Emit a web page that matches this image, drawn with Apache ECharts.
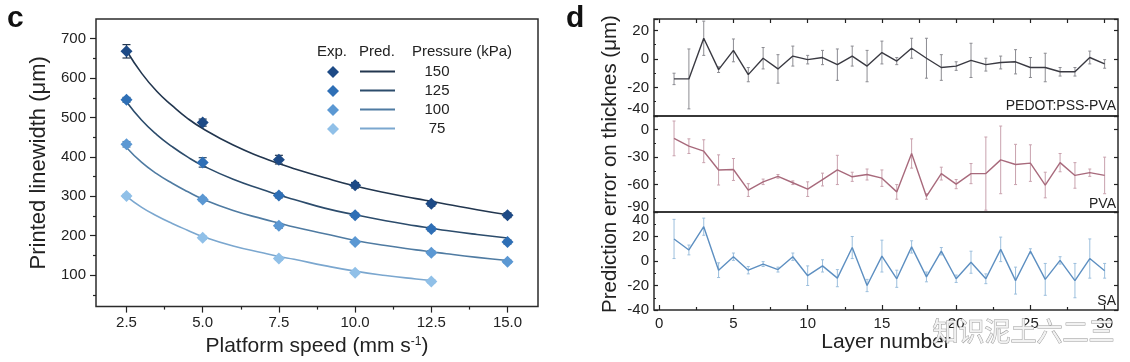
<!DOCTYPE html>
<html><head><meta charset="utf-8">
<script src="https://cdn.jsdelivr.net/npm/echarts@6/dist/echarts.min.js"></script>
<style>html,body{margin:0;padding:0;background:#fff}#c{width:1130px;height:362px}</style>
</head><body><div id="c"></div>
<script>
// ---------- panel c data ----------
const speeds = [2.5, 5.0, 7.5, 10.0, 12.5, 15.0];
const speeds75 = [2.5, 5.0, 7.5, 10.0, 12.5];
const pressureLabels = ['150', '125', '100', '75'];
const exp150 = [668, 487, 393, 328, 281, 252];
const exp125 = [545, 386, 302, 252, 217, 184];
const exp100 = [432, 292, 225, 184, 157, 134];
const exp75 = [301, 195, 142, 106, 84];
const err150 = [17, 9, 11, 7, 6, 6];
const err125 = [6, 12, 6, 5, 5, 5];
const err100 = [7, 5, 6, 4, 5, 4];
const err75 = [4, 4, 4, 4, 4];
const predSpeed = [2.5, 3, 3.5, 4, 4.5, 5, 6, 7, 7.5, 8, 9, 10, 11, 12, 12.5, 13, 14, 15];
const predSpeed75 = [2.5, 3, 3.5, 4, 4.5, 5, 6, 7, 7.5, 8, 9, 10, 11, 12, 12.5];
const pred150 = [670, 612, 566, 530, 498, 472, 430, 397, 383, 370, 347, 326, 309, 294, 287, 280, 266, 253];
const pred125 = [540, 493, 456, 426, 400, 378, 343, 316, 303, 292, 270, 253, 238, 225, 219, 213, 203, 194];
const pred100 = [424, 386, 357, 333, 312, 293, 264, 242, 232, 222, 205, 188, 175, 164, 159, 154, 145, 137];
const pred75 = [300, 272, 250, 231, 214, 198, 174, 156, 147, 140, 124, 110, 99, 90, 86];
const yTicksLeft = [100, 200, 300, 400, 500, 600, 700];
const yMinorLeft = [50, 150, 250, 350, 450, 550, 650];
const xTicksLeft = [2.5, 5.0, 7.5, 10.0, 12.5, 15.0];
const xMinorLeft = [3.75, 6.25, 8.75, 11.25, 13.75];

// ---------- panel d data ----------
const layers = [1,2,3,4,5,6,7,8,9,10,11,12,13,14,15,16,17,18,19,20,21,22,23,24,25,26,27,28,29,30];
const pedot = [-14, -14, 14.5, -7.5, 6, -11, 0.5, -7, 2, -0.5, 1, -4, 2, -5, 4.5, -1.5, 7.5, 0.5, -6, -5, -1, -4, -2.5, -2, -6, -6, -9, -9, 1, -3.5];
const pedotErr = [4, 21, 12, 2, 8, 5, 7.5, 10, 7, 3, 5, 11, 7, 11, 8, 2.5, 7, 14, 9, 3, 12, 4.5, 4.5, 8.5, 7, 10, 3, 3, 4.5, 3];
const pva = [-9.5, -18, -23.5, -44, -43.5, -66, -57, -51, -58, -65, -54.5, -44, -51.5, -49, -53, -68, -26, -73, -48, -59.5, -48, -48, -33, -38, -36.5, -60.5, -36, -50, -47, -50];
const pvaErr = [19, 8, 12.5, 16.5, 12, 7, 3, 2, 2, 8, 7, 16, 5, 6, 9, 8, 16, 3, 7, 5, 11, 40, 37, 22, 20, 14, 10, 14, 4, 20];
const sa = [18, 9, 28, -7.5, 3.5, -7.5, -2.5, -7, 3.5, -12, -4, -14, 11, -20, 4, -14.5, 11.5, -13, 8, -14.5, -1, -14.5, 9.5, -16, 8, -15, 0.5, -16, 2, -8];
const saErr = [16, 4, 7, 6, 3, 3, 2, 2, 3, 8, 5, 7, 9, 5, 13, 7, 5, 4, 3, 3, 9, 4, 10, 11, 2, 13, 3, 14, 16, 6];
const xTicksRight = [0, 5, 10, 15, 20, 25, 30];
const xMinorRight = [2.5, 7.5, 12.5, 17.5, 22.5, 27.5];
const xTopRight = [0, 2.5, 5, 7.5, 10, 12.5, 15, 17.5, 20, 22.5, 25, 27.5, 30];

const FONT = 'Liberation Sans, Arial, sans-serif';
const AX = '#222';

function zip(xs, ys) { return xs.map((x, i) => [x, ys[i]]); }
function zip3(xs, ys, es) { return xs.map((x, i) => [x, ys[i], es[i]]); }
function errBar(color, cap, width) {
  return function (params, api) {
    const x = api.value(0), y = api.value(1), e = api.value(2);
    const a = api.coord([x, y + e]), b = api.coord([x, y - e]);
    const st = { stroke: color, lineWidth: width };
    return { type: 'group', children: [
      { type: 'line', shape: { x1: a[0], y1: a[1], x2: b[0], y2: b[1] }, style: st },
      { type: 'line', shape: { x1: a[0] - cap, y1: a[1], x2: a[0] + cap, y2: a[1] }, style: st },
      { type: 'line', shape: { x1: b[0] - cap, y1: b[1], x2: b[0] + cap, y2: b[1] }, style: st }
    ] };
  };
}

const groups = [
  { p: pressureLabels[0], xs: speeds, exp: exp150, err: err150, px: predSpeed, pred: pred150, mk: '#1d4a86', ln: '#22364f' },
  { p: pressureLabels[1], xs: speeds, exp: exp125, err: err125, px: predSpeed, pred: pred125, mk: '#2e6fb6', ln: '#2c4c6c' },
  { p: pressureLabels[2], xs: speeds, exp: exp100, err: err100, px: predSpeed, pred: pred100, mk: '#5b98d3', ln: '#4f7ba2' },
  { p: pressureLabels[3], xs: speeds75, exp: exp75, err: err75, px: predSpeed75, pred: pred75, mk: '#90c0e8', ln: '#7ba7cf' }
];

const series = [];
groups.forEach(g => {
  series.push({ name: 'Pred. ' + g.p, type: 'line', xAxisIndex: 0, yAxisIndex: 0, smooth: 0.5, symbol: 'none',
    data: zip(g.px, g.pred), lineStyle: { color: g.ln, width: 1.6 }, itemStyle: { color: g.ln }, z: 2 });
  series.push({ name: 'Err ' + g.p, type: 'custom', xAxisIndex: 0, yAxisIndex: 0, data: zip3(g.xs, g.exp, g.err),
    encode: { x: 0, y: 1 }, renderItem: errBar(g.ln, 4, 1.2), z: 3 });
  series.push({ name: 'Exp. ' + g.p, type: 'scatter', xAxisIndex: 0, yAxisIndex: 0, symbol: 'diamond', symbolSize: 12,
    data: zip(g.xs, g.exp), itemStyle: { color: g.mk, opacity: 1 }, z: 4 });
});

const panels = [
  { vals: pedot, err: pedotErr, line: '#3a3a42', eb: '#8c8c92', x: 2, y: 2 },
  { vals: pva, err: pvaErr, line: '#a86a7c', eb: '#c9a2ae', x: 3, y: 4 },
  { vals: sa, err: saErr, line: '#5d8fc1', eb: '#9cbfdd', x: 4, y: 6 }
];
panels.forEach((pn, i) => {
  series.push({ name: 'err' + i, type: 'custom', xAxisIndex: pn.x, yAxisIndex: pn.y, data: zip3(layers, pn.vals, pn.err),
    encode: { x: 0, y: 1 }, renderItem: errBar(pn.eb, 1.5, 1), clip: true, z: 2 });
  series.push({ name: 'line' + i, type: 'line', xAxisIndex: pn.x, yAxisIndex: pn.y, data: zip(layers, pn.vals),
    symbol: 'none', lineStyle: { color: pn.line, width: 1.4 }, z: 3 });
});

const tickLabel = { fontFamily: FONT, fontSize: 15, color: '#222' };
const noAxis = { axisLine: { show: false, onZero: false }, splitLine: { show: false } };

const xAxis = [
  // 0: panel c main
  { gridIndex: 0, type: 'value', min: 1.5, max: 16, ...noAxis,
    axisLabel: { customValues: xTicksLeft, formatter: v => v.toFixed(1), margin: 9, ...tickLabel },
    axisTick: { customValues: xTicksLeft, length: 6, inside: false, lineStyle: { color: AX, width: 1.2 } },
    name: '{a|Platform speed (mm s}{s|-1}{a|)}', nameLocation: 'middle', nameGap: 25,
    nameTextStyle: { rich: { a: { fontFamily: FONT, fontSize: 21, color: '#222' }, s: { fontFamily: FONT, fontSize: 12, color: '#222', padding: [0, 0, 10, 0] } } } },
  // 1: panel c minor ticks
  { gridIndex: 0, type: 'value', min: 1.5, max: 16, position: 'bottom', ...noAxis, axisLabel: { show: false },
    axisTick: { customValues: xMinorLeft, length: 3, inside: false, lineStyle: { color: AX, width: 1.2 } } },
  // 2: panel d1 (top ticks)
  { gridIndex: 1, type: 'value', min: -0.35, max: 30.9, position: 'top', ...noAxis, axisLabel: { show: false },
    axisTick: { customValues: xTopRight, length: 4, inside: true, lineStyle: { color: AX, width: 1.2 } } },
  // 3: panel d2
  { gridIndex: 2, type: 'value', min: -0.35, max: 30.9, ...noAxis, axisLabel: { show: false }, axisTick: { show: false } },
  // 4: panel d3
  { gridIndex: 3, type: 'value', min: -0.35, max: 30.9, position: 'bottom', ...noAxis,
    axisLabel: { customValues: xTicksRight, margin: 6, ...tickLabel },
    axisTick: { customValues: xTicksRight, length: 5, inside: true, lineStyle: { color: AX, width: 1.2 } },
    name: 'Layer number', nameLocation: 'middle', nameGap: 22,
    nameTextStyle: { fontFamily: FONT, fontSize: 21, color: '#222', verticalAlign: 'top' } },
  // 5: panel d3 minor
  { gridIndex: 3, type: 'value', min: -0.35, max: 30.9, position: 'bottom', ...noAxis, axisLabel: { show: false },
    axisTick: { customValues: xMinorRight, length: 3, inside: true, lineStyle: { color: AX, width: 1.2 } } }
];

function rightY(grid, min, max, interval, fmt, showMax, name) {
  const main = { gridIndex: grid, type: 'value', min: min, max: max, interval: interval, position: 'left', ...noAxis,
    axisLabel: { margin: 5, ...tickLabel, formatter: fmt.f, rich: fmt.rich, showMinLabel: true, showMaxLabel: showMax, hideOverlap: false },
    axisTick: { inside: true, length: 4, lineStyle: { color: AX, width: 1.2 } },
    minorTick: { show: true, splitNumber: 2, length: 2, lineStyle: { color: AX, width: 1 } } };
  if (name) {
    main.name = name; main.nameLocation = 'middle'; main.nameGap = 33;
    main.nameTextStyle = { fontFamily: FONT, fontSize: 20.5, color: '#222' };
  }
  const right = { gridIndex: grid, type: 'value', min: min, max: max, interval: interval, position: 'right', ...noAxis,
    axisLabel: { show: false }, axisTick: { inside: true, length: 4, lineStyle: { color: AX, width: 1.2 } } };
  return [main, right];
}
const richBase = { fontFamily: FONT, fontSize: 15, color: '#222' };
const yAxis = [
  { gridIndex: 0, type: 'value', min: 20, max: 750, position: 'left', ...noAxis,
    axisLabel: { customValues: yTicksLeft, margin: 10, ...tickLabel },
    axisTick: { customValues: yTicksLeft, length: 6, inside: false, lineStyle: { color: AX, width: 1.2 } },
    name: 'Printed linewidth (μm)', nameLocation: 'middle', nameGap: 46,
    nameTextStyle: { fontFamily: FONT, fontSize: 22, color: '#222' } },
  { gridIndex: 0, type: 'value', min: 20, max: 750, position: 'left', ...noAxis, axisLabel: { show: false },
    axisTick: { customValues: yMinorLeft, length: 3, inside: false, lineStyle: { color: AX, width: 1.2 } } },
  ...rightY(1, -40, 28, 20, { f: v => v === -40 ? '{u|' + v + '}' : String(v), rich: { u: { ...richBase, lineHeight: 14, padding: [0, 0, 14, 0] } } }, false),
  ...rightY(2, -90, 15, 30, { f: v => v === -90 ? '{u|' + v + '}' : String(v), rich: { u: { ...richBase, lineHeight: 14, padding: [0, 0, 10, 0] } } }, false, 'Prediction error on thicknes (μm)'),
  ...rightY(3, -40, 40, 20, { f: v => v === 40 ? '{d|' + v + '}' : String(v), rich: { d: { ...richBase, lineHeight: 14, padding: [15, 0, 0, 0] } } }, true)
];

const gridStyle = { show: true, borderColor: '#2b2b2b', borderWidth: 1.5, backgroundColor: 'transparent', containLabel: false };
const option = {
  animation: false,
  backgroundColor: '#fff',
  grid: [
    { left: 96, top: 19, width: 442, height: 291, ...gridStyle },
    { left: 654, top: 19, width: 464, height: 97, ...gridStyle },
    { left: 654, top: 116, width: 464, height: 96, ...gridStyle },
    { left: 654, top: 212, width: 464, height: 98, ...gridStyle }
  ],
  xAxis: xAxis,
  yAxis: yAxis,
  legend: [
    { orient: 'vertical', left: 327, top: 66, itemWidth: 12, itemHeight: 12, itemGap: 7, icon: 'diamond',
      data: groups.map(g => 'Exp. ' + g.p), formatter: () => '', selectedMode: false, padding: 0 },
    { orient: 'vertical', left: 360, top: 62, itemWidth: 35, itemHeight: 2, itemGap: 0, icon: 'rect',
      data: groups.map(g => 'Pred. ' + g.p), selectedMode: false, padding: 0,
      formatter: n => '{v|' + n.replace('Pred. ', '') + '}',
      textStyle: { lineHeight: 19, rich: { v: { fontFamily: FONT, fontSize: 15, color: '#222', width: 74, align: 'center', lineHeight: 19 } } } }
  ],
  graphic: [
    { type: 'text', left: 7, top: 4, style: { text: 'c', font: 'bold 30px ' + FONT, fill: '#111' } },
    { type: 'text', left: 566, top: 4, style: { text: 'd', font: 'bold 30px ' + FONT, fill: '#111' } },
    { type: 'text', left: 317, top: 44, style: { text: 'Exp.', font: '15px ' + FONT, fill: '#222' } },
    { type: 'text', left: 359, top: 44, style: { text: 'Pred.', font: '15px ' + FONT, fill: '#222' } },
    { type: 'text', left: 412, top: 44, style: { text: 'Pressure (kPa)', font: '15px ' + FONT, fill: '#222' } },
    { type: 'text', right: 14, top: 99, style: { text: 'PEDOT:PSS-PVA', font: '14px ' + FONT, fill: '#222' } },
    { type: 'text', right: 14, top: 197, style: { text: 'PVA', font: '14px ' + FONT, fill: '#222' } },
    { type: 'text', right: 14, top: 294, style: { text: 'SA', font: '14px ' + FONT, fill: '#222' } },
    { type: 'text', left: 932, top: 318, z: 100, style: { text: '知识泥土六二三', font: '26px "Noto Sans CJK SC"', fill: '#f2f2f2', stroke: '#9a9a9a', lineWidth: 1 } }
  ],
  series: series
};
const chart = echarts.init(document.getElementById('c'), null, { renderer: 'canvas' });
chart.setOption(option);
</script>
</body></html>
